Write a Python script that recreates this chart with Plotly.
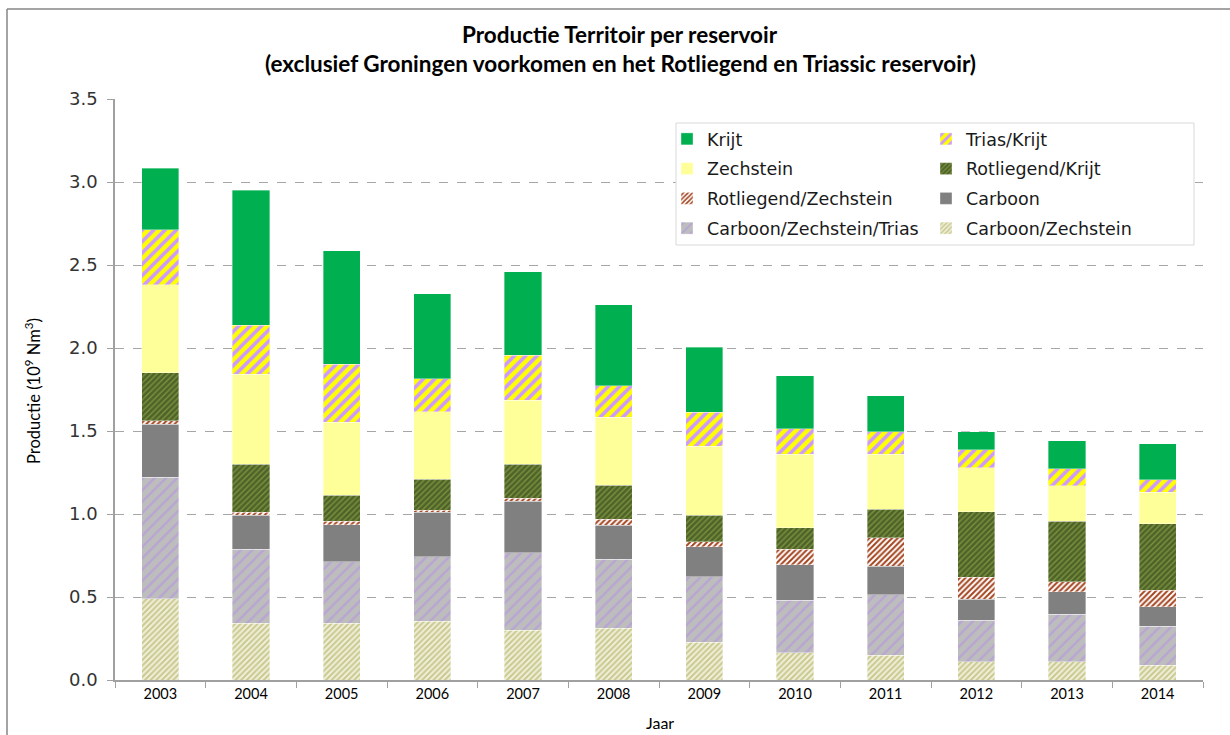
import plotly.graph_objects as go

# ── Data (10^9 Nm3) ──────────────────────────────────────────────────────────
years = ["2003", "2004", "2005", "2006", "2007", "2008",
         "2009", "2010", "2011", "2012", "2013", "2014"]

carboon_zechstein       = [0.490, 0.343, 0.343, 0.355, 0.301, 0.311, 0.228, 0.164, 0.150, 0.111, 0.109, 0.090]
carboon_zechstein_trias = [0.730, 0.445, 0.370, 0.388, 0.466, 0.415, 0.393, 0.315, 0.363, 0.249, 0.287, 0.234]
carboon                 = [0.320, 0.206, 0.222, 0.268, 0.311, 0.207, 0.181, 0.214, 0.172, 0.125, 0.137, 0.118]
rotliegend_zechstein    = [0.022, 0.018, 0.022, 0.012, 0.016, 0.036, 0.032, 0.095, 0.171, 0.134, 0.060, 0.099]
rotliegend_krijt        = [0.290, 0.289, 0.157, 0.187, 0.206, 0.205, 0.160, 0.128, 0.172, 0.396, 0.362, 0.400]
zechstein               = [0.530, 0.542, 0.439, 0.407, 0.386, 0.409, 0.413, 0.443, 0.331, 0.264, 0.215, 0.189]
trias_krijt             = [0.330, 0.295, 0.349, 0.197, 0.269, 0.191, 0.206, 0.156, 0.138, 0.108, 0.103, 0.077]
krijt                   = [0.370, 0.813, 0.685, 0.512, 0.503, 0.486, 0.393, 0.317, 0.214, 0.109, 0.167, 0.217]

# stacked bottom -> top; "leg" = which legend column, "rank" = row in that column
SERIES = [
    ("Carboon/Zechstein",       carboon_zechstein,       "legend2", 4, dict(bg="#F0F0DC", fg="#C9C98E", shape="/", size=4, sol=0.5)),
    ("Carboon/Zechstein/Trias", carboon_zechstein_trias, "legend",  4, dict(bg="#BDBDBD", fg="#B8A5D3", shape="/", size=8, sol=0.3)),
    ("Carboon",                 carboon,                 "legend2", 3, dict(bg="#808080", fg=None)),
    ("Rotliegend/Zechstein",    rotliegend_zechstein,    "legend",  3, dict(bg="#FFFFFF", fg="#A4441F", shape="/", size=4, sol=0.5)),
    ("Rotliegend/Krijt",        rotliegend_krijt,        "legend2", 2, dict(bg="#4F6228", fg="#7A9440", shape="/", size=4, sol=0.35)),
    ("Zechstein",               zechstein,               "legend",  2, dict(bg="#FFFF99", fg=None)),
    ("Trias/Krijt",             trias_krijt,             "legend2", 1, dict(bg="#FFFF00", fg="#CC99FF", shape="/", size=8, sol=0.45)),
    ("Krijt",                   krijt,                   "legend",  1, dict(bg="#00B050", fg=None)),
]

FONT = "Lato, Calibri, sans-serif"
LEGEND_FONT = "DejaVu Sans, Verdana, sans-serif"

# pixel -> paper helpers (plot area: x 115..1203, y 99..680)
def px(x):
    return (x - 115) / 1088

def py(y):
    return (680 - y) / 581

fig = go.Figure()
for name, vals, leg, rank, st in SERIES:
    marker = dict(color=st["bg"], line=dict(color="rgba(255,255,255,0.6)", width=0.6))
    if st["fg"]:
        marker["pattern"] = dict(shape=st["shape"], fgcolor=st["fg"], bgcolor=st["bg"],
                                 size=st["size"], solidity=st["sol"], fillmode="replace")
    fig.add_trace(go.Bar(name=name, x=years, y=vals, marker=marker,
                         legend=leg, legendgroup=name, legendrank=rank))

legend_common = dict(
    orientation="v", yanchor="top", xanchor="left", tracegroupgap=4,
    bgcolor="rgba(0,0,0,0)", borderwidth=0,
    font=dict(family=LEGEND_FONT, size=17.5, color="#1a1a1a"),
)

fig.update_layout(
    width=1230, height=735,
    barmode="stack", bargap=0.59,
    plot_bgcolor="white", paper_bgcolor="white",
    margin=dict(l=115, r=27, t=99, b=55),
    font=dict(family=FONT, color="#000000"),
    showlegend=True,
    legend=dict(x=px(667), y=py(121), **legend_common),
    legend2=dict(x=px(926), y=py(121), **legend_common),
    xaxis=dict(
        type="category", tickson="boundaries", ticks="outside", ticklen=6,
        tickcolor="#A0A0A0", showline=True, linecolor="#A0A0A0", linewidth=1.5,
        tickfont=dict(family=FONT, size=14.5), showgrid=False,
    ),
    yaxis=dict(
        range=[0, 3.5], dtick=0.5, tickformat=".1f", ticks="outside", ticklen=6,
        tickcolor="#A0A0A0", showline=True, linecolor="#A0A0A0", linewidth=1.5,
        showgrid=True, gridcolor="#A6A6A6", griddash="dash", gridwidth=1,
        tickfont=dict(family=LEGEND_FONT, size=18, color="#333333"),
        ticklabelstandoff=6, zeroline=False,
    ),
    annotations=[
        dict(text="<b>Productie Territoir per reservoir</b>", xref="paper", yref="paper",
             x=px(620), y=py(35), showarrow=False,
             xanchor="center", yanchor="middle", font=dict(family=FONT, size=22.5)),
        dict(text="<b>(exclusief Groningen voorkomen en het Rotliegend en Triassic reservoir)</b>",
             xref="paper", yref="paper", x=px(620), y=py(64), showarrow=False,
             xanchor="center", yanchor="middle", font=dict(family=FONT, size=22.5)),
        dict(text="Productie (10<sup>9</sup> Nm<sup>3</sup>)", xref="paper", yref="paper",
             x=px(33), y=py(391), showarrow=False, textangle=-90,
             xanchor="center", yanchor="middle", font=dict(family=FONT, size=16.5)),
        dict(text="Jaar", xref="paper", yref="paper", x=px(660), y=py(722), showarrow=False,
             xanchor="center", yanchor="middle", font=dict(family=FONT, size=16)),
    ],
    shapes=[
        # legend box (white, hides gridlines behind it)
        dict(type="rect", xref="paper", yref="paper", layer="above",
             x0=px(676), x1=px(1194), y0=py(245), y1=py(123),
             fillcolor="white", line=dict(color="#D9D9D9", width=1)),
        # chart-area frame (left and top edges visible in the reference)
        dict(type="line", xref="paper", yref="paper",
             x0=px(7), x1=px(1240), y0=py(9), y1=py(9),
             line=dict(color="#868686", width=1.5)),
        dict(type="line", xref="paper", yref="paper",
             x0=px(7), x1=px(7), y0=py(9), y1=py(745),
             line=dict(color="#868686", width=1.5)),
    ],
)

# page body has an 8px default margin; drop it so the figure sits at (0, 0)
fig.write_html("out.html", config={"displayModeBar": False},
               post_script="document.body.style.margin='0px';")
